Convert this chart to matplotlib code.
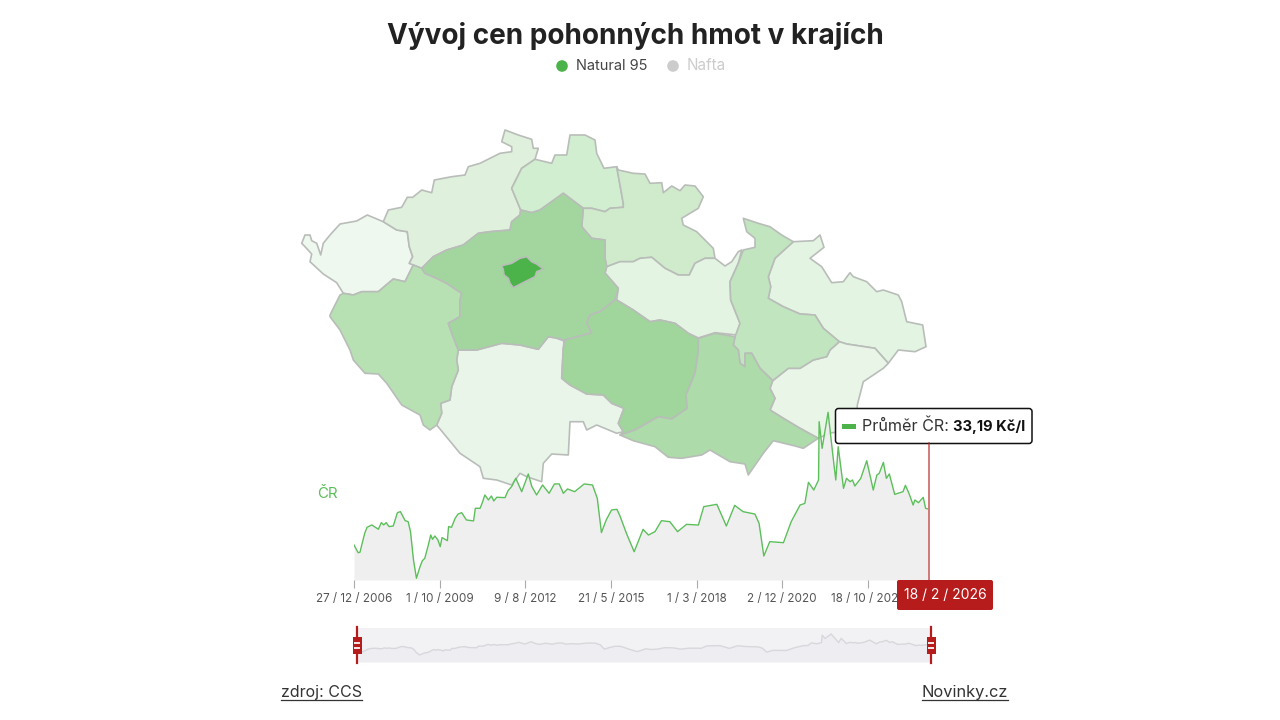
import matplotlib
matplotlib.use("Agg")
import matplotlib.pyplot as plt
from matplotlib.patches import Polygon, FancyBboxPatch, Rectangle, Circle

plt.rcParams['font.family'] = ['Inter', 'DejaVu Sans']

TITLE = "Vývoj cen pohonných hmot v krajích"
LEGEND_LABELS = ["Natural 95", "Nafta"]
TICK_LABELS = ["27 / 12 / 2006", "1 / 10 / 2009", "9 / 8 / 2012", "21 / 5 / 2015",
               "1 / 3 / 2018", "2 / 12 / 2020", "18 / 10 / 2023"]
TICK_INDEX = [0, 144, 288, 432, 576, 720, 864]
LAST_DATE = "18 / 2 / 2026"

week_index = [0, 7, 10, 18, 22, 30, 41, 46, 50, 54, 59, 66, 73, 78, 86, 91, 95, 100, 105, 111,
              115, 119, 125, 129, 132, 136, 141, 145, 148, 157, 159, 164, 170, 175, 181, 189,
              201, 204, 212, 216, 220, 226, 231, 235, 240, 254, 259, 265, 272, 282, 293, 299,
              307, 317, 328, 337, 345, 352, 359, 371, 387, 401, 409, 416, 424, 433, 442, 447,
              458, 471, 486, 495, 506, 517, 531, 544, 559, 579, 588, 610, 626, 640, 654, 674,
              681, 689, 699, 722, 735, 750, 758, 764, 773, 781, 782, 787, 797, 806, 810, 814,
              823, 828, 834, 838, 842, 852, 862, 873, 879, 883, 890, 895, 900, 909, 923, 927,
              933, 940, 943, 949, 957, 961, 965]
price_natural95 = [29.0, 28.11, 28.15, 30.36, 31.06, 31.33, 30.83, 31.6, 31.33, 31.6, 31.14, 31.21,
                   32.76, 32.88, 31.83, 31.72, 30.55, 27.26, 25.13, 26.48, 27.18, 27.45, 29.0,
                   30.17, 29.66, 30.05, 29.59, 28.81, 29.86, 29.51, 31.14, 31.06, 32.1, 32.6,
                   32.76, 31.91, 31.8, 33.27, 33.27, 33.97, 34.82, 34.24, 34.7, 34.12, 34.55,
                   34.51, 35.32, 35.79, 36.76, 35.2, 37.26, 35.79, 34.82, 35.98, 35.01, 36.1,
                   36.1, 35.01, 35.52, 35.2, 36.1, 35.98, 34.43, 30.44, 31.91, 33.07, 33.15, 32.4,
                   30.36, 28.22, 30.82, 30.16, 30.55, 31.83, 31.71, 30.55, 31.4, 31.32, 33.46,
                   33.73, 31.21, 33.61, 32.88, 32.6, 31.52, 27.72, 29.39, 29.27, 31.71, 33.65,
                   33.84, 36.29, 35.39, 36.56, 43.34, 40.24, 44.43, 38.88, 36.56, 40.43, 35.59,
                   36.75, 36.36, 36.56, 35.86, 36.75, 38.8, 35.39, 37.14, 37.33, 38.61, 36.75,
                   37.26, 34.89, 35.2, 35.94, 35.01, 33.65, 34.23, 33.92, 34.54, 33.26, 33.19]
AVG_TEXT = "33,19 Kč/l"

# Region outlines in map units, with their fills
karlovy_vary = [(301.7,243.3),(305,235),(310,235),(311.7,240.7),(316.7,243.3),(320.7,255),(323.3,243.3),(330,235),(340,224),(356.7,221),(367.3,215),(383.3,221.7),(396.7,230),(407.3,231.7),(409.3,246.7),(412.7,256.7),(409.3,263.3),(413.3,265),(405,281.7),(393.3,279),(378.3,291.7),(361.7,291.7),(353.3,295),(343.3,293.3),(336.7,282.7),(323.3,274),(310,261.7),(311.7,254),(305,246.7)]
usti = [(383.3,221.7),(388.3,210),(401.7,207.3),(407.3,197.3),(412.7,197.3),(421.7,190),(431.7,192.7),(434.3,180),(451.7,176.7),(465,175),(468.3,166.7),(480,163.3),(500,153.3),(511.7,151.7),(511.7,146.7),(501.7,141.7),(505,130),(518.3,135),(531.7,139.3),(533.3,148.3),(538.3,148.3),(535,159.3),(521.7,168.3),(511.7,188.3),(520.7,210),(520,215),(511.7,221.7),(510,230),(490,231.7),(478.3,233.3),(463.3,245),(446.7,250),(433.3,256.7),(421.7,268.3),(413.3,265),(409.3,263.3),(412.7,256.7),(409.3,246.7),(407.3,231.7),(396.7,230)]
liberec = [(535,159.3),(551.7,163.3),(555,155),(566.7,155),(570,135),(585,135),(595,140),(596.7,153.3),(604,168.3),(616.7,166.7),(623.3,203.3),(623.3,207.3),(610,208.3),(605,211.7),(591.7,208.3),(583.3,208.3),(563.3,193.3),(540,210),(531.7,212.7),(520.7,210),(511.7,188.3),(521.7,168.3)]
hradec = [(616.7,166.7),(618.3,170),(633.3,173.3),(645,174),(650,183.3),(661.7,182.7),(663.3,192.7),(671.7,186),(680,190.7),(685,185),(695,186),(703.3,196.7),(698.3,208.3),(681.7,218.3),(683.3,225),(696.7,231.7),(713.3,248.3),(715,258.3),(705,258.3),(695,263.3),(689.3,275),(678.3,275),(665,268.3),(651.7,257.3),(640,258.3),(633.3,261.7),(620,261.7),(606.7,266.7),(605,258.3),(605,240),(591.7,238.3),(581.7,226.7),(583.3,208.3),(591.7,208.3),(605,211.7),(610,208.3),(623.3,207.3),(623.3,203.3)]
central = [(520.7,210),(531.7,212.7),(540,210),(563.3,193.3),(583.3,208.3),(581.7,226.7),(591.7,238.3),(605,240),(605,258.3),(606.7,266.7),(605,273),(618.3,288.3),(615,300),(600,311.7),(590,315),(586.7,323),(591.7,333),(565,340),(556,338),(548.3,336.7),(538.3,349.3),(520,345),(501.7,343.3),(476.7,350),(458.3,350),(451.7,333),(448.3,323.3),(460,316.7),(460,300),(461.7,293.3),(446.7,283.3),(436.7,278.3),(425,273.3),(421.7,268.3),(433.3,256.7),(446.7,250),(463.3,245),(478.3,233.3),(490,231.7),(510,230),(511.7,221.7),(520,215)]
praha = [(501.7,265.7),(511.7,263.3),(520,258.3),(526.7,256.7),(531.7,261.7),(536.7,264),(543.3,269),(536.7,271.7),(535,276.7),(525,281.7),(513.3,287.7),(510,283.3),(508.3,278.3),(504,275),(503.3,270)]
plzen = [(330,315),(340,295),(343.3,293.3),(353.3,295),(361.7,291.7),(378.3,291.7),(393.3,279),(405,281.7),(413.3,265),(421.7,268.3),(425,273.3),(436.7,278.3),(446.7,283.3),(461.7,293.3),(460,300),(460,316.7),(448.3,323.3),(451.7,333),(458.3,350),(456.7,360),(458.3,370),(451.7,386.7),(450,400),(440.7,403.3),(441.7,413.3),(436.7,425),(430,430),(423.3,425),(420,415),(401.7,405),(386.7,383.3),(378.3,374),(365,373.3),(353.3,360),(350,350),(340,330),(330,316.7)]
south_bohemia = [(458.3,350),(476.7,350),(501.7,343.3),(520,345),(538.3,349.3),(548.3,336.7),(556,338),(564,341),(563.3,348.3),(561.7,378.3),(570,385),(586.7,394),(603.3,395),(611.7,403.3),(624,408.3),(618.3,423.3),(623.3,431.7),(616.7,433.3),(596.7,425),(586.7,430),(583.3,421.7),(570,421.7),(568.3,455),(551.7,454),(543.3,463.3),(541.7,481.7),(526.7,476.7),(520,473.3),(511.7,485),(496.7,480),(483.3,478.3),(480,466.7),(460,453.3),(436.7,425),(441.7,413.3),(440.7,403.3),(450,400),(451.7,386.7),(458.3,370),(456.7,360)]
vysocina = [(615,300),(600,311.7),(590,315),(586.7,323),(591.7,333),(565,340),(563.3,348.3),(561.7,378.3),(570,385),(586.7,394),(603.3,395),(611.7,403.3),(624,408.3),(618.3,423.3),(623.3,431.7),(620,435),(635,430),(658.3,416.7),(671.7,419),(687.3,408.3),(686,395),(695,373.3),(698.3,351.7),(698.3,338.3),(688.3,333.3),(675,323.3),(660,320),(650,321.7),(633.3,310),(616.7,300)]
south_moravia = [(698.3,338.3),(715,333.3),(735,336.7),(733.3,345),(738.3,350),(740,363.3),(745,366.7),(745,353.3),(751.7,353.3),(760,368.3),(772.7,380.7),(770,388.3),(775,398.3),(770,410),(783.3,418.3),(800,428.3),(818.3,438.3),(803.3,448.3),(795,446),(773.3,440.7),(763.3,453.3),(748.3,475),(745,464),(730,461.7),(710,450),(701.7,455),(681.7,458.3),(668.3,457.3),(655,446.7),(633.3,440.7),(620,435),(635,430),(658.3,416.7),(671.7,419),(687.3,408.3),(686,395),(695,373.3),(698.3,351.7)]
olomouc = [(743.3,218.3),(758.3,223.3),(770,226.7),(781.7,235),(793.3,241.7),(775,258.3),(768.3,276.7),(770.7,286.7),(768.3,298.3),(783.3,306.7),(800,314),(815,315),(823.3,328.3),(839.3,341.7),(830,350),(826.7,356.7),(813.3,360),(800,368.3),(788.3,368.3),(772.7,380.7),(760,368.3),(751.7,353.3),(745,353.3),(745,366.7),(740,363.3),(738.3,350),(733.3,345),(735,336.7),(740,323.3),(730.7,300),(730,281.7),(738.3,263.3),(743.3,250),(755,247.3),(755,238.3),(746.7,231.7)]
silesia = [(793.3,241.7),(813.3,240.7),(820,235),(824,247.3),(810,258.3),(821.7,266.7),(831.7,282.7),(843.3,281.7),(850,272.7),(853.3,276.7),(866.7,281.7),(876.7,291.7),(883.3,290),(898.3,295),(901.7,301.7),(906.7,321.7),(922.7,325),(926,346.7),(915,351.7),(898.3,350),(888.3,363.3),(875,348.3),(846.7,344),(839.3,341.7),(823.3,328.3),(815,315),(800,314),(783.3,306.7),(768.3,298.3),(770.7,286.7),(768.3,276.7),(775,258.3)]
zlin = [(839.3,341.7),(846.7,344),(875,348.3),(888.3,363.3),(883.3,368.3),(863.3,381.7),(857.3,405),(856,430),(830,433),(818.3,438.3),(800,428.3),(783.3,418.3),(770,410),(775,398.3),(770,388.3),(772.7,380.7),(788.3,368.3),(800,368.3),(813.3,360),(826.7,356.7),(830,350)]
pardubice = [(606.7,266.7),(620,261.7),(633.3,261.7),(640,258.3),(651.7,257.3),(665,268.3),(678.3,275),(689.3,275),(695,263.3),(705,258.3),(715,258.3),(725,266),(731.7,261.7),(738.3,251.7),(741.7,250),(738.3,263.3),(730,281.7),(730.7,300),(740,323.3),(736.7,335),(715,332.7),(698.3,338),(688.3,333.3),(675,323.3),(660,320),(650,321.7),(633.3,310),(616.7,300),(618.3,288.3),(605,273)]

regions = [karlovy_vary, usti, liberec, hradec, pardubice, silesia, zlin, olomouc, south_bohemia,
           plzen, central, vysocina, south_moravia, praha]
region_fills = ["#EFF8EE", "#DFF1DC", "#D2EED0", "#CFEBCC", "#E4F4E2", "#E4F4E2", "#E9F5E7", "#C1E5BE",
                "#EAF5EA", "#B7E0B3", "#A3D69F", "#A0D59C", "#ADDBA9", "#4CB34A"]

W, H = 1280, 720
fig = plt.figure(figsize=(W/100, H/100), dpi=100, facecolor="white")

def px_axes(l, t, r, b, z):
    a = fig.add_axes([l/W, 1-b/H, (r-l)/W, (b-t)/H], zorder=z)
    a.patch.set_alpha(0)
    return a

# Map and page-level texts
m = px_axes(0, 0, W, H, 1)
m.set_xlim(0, W); m.set_ylim(H, 0); m.axis("off")
for outline, fill in zip(regions, region_fills):
    m.add_patch(Polygon(outline, closed=True, facecolor=fill, edgecolor="#B9BDB9", lw=1.2, joinstyle="round"))

m.text(635, 36.5, TITLE, ha="center", va="center", fontsize=20.1, fontweight="bold", color="#222222")
m.add_patch(Circle((562, 66), 5.8, color="#4CB34A", lw=0))
m.text(576, 65.5, LEGEND_LABELS[0], ha="left", va="center", fontsize=10.5, color="#444444")
m.add_patch(Circle((673, 66), 5.8, color="#CCCCCC", lw=0))
m.text(687, 65.5, LEGEND_LABELS[1], ha="left", va="center", fontsize=11, color="#CCCCCC")
m.text(317, 494, "ČR", ha="left", va="center", fontsize=10.8, color="#5CBF5A")

# Main price chart
y_bottom, y_top = 24.93, 44.7
a = px_axes(354, 410, 928, 580, 2)
a.set_xlim(0, 965); a.set_ylim(y_bottom, y_top)
a.fill_between(week_index, price_natural95, y_bottom, color="#EEEEEF", alpha=0.92, lw=0)
a.plot(week_index, price_natural95, color="#5CBF5A", lw=1.0, solid_joinstyle="round")
for s in a.spines.values():
    s.set_visible(False)
a.set_yticks([])
a.set_xticks(TICK_INDEX)
a.set_xticklabels(TICK_LABELS, fontsize=8.4, color="#555555")
a.tick_params(axis="x", length=6, width=0.8, color="#AAAAAA", pad=3.5)

# Range slider
s = px_axes(357, 628, 931, 662, 2)
s.set_xlim(0, 965); s.set_ylim(18.7, 49.9)
s.patch.set_alpha(1); s.patch.set_facecolor("#F2F2F4")
s.fill_between(week_index, price_natural95, 18.7, color="#EDEDF2", lw=0)
s.plot(week_index, price_natural95, color="#D8D8DC", lw=1.0)
s.set_xticks([]); s.set_yticks([])
for sp in s.spines.values():
    sp.set_visible(False)

# Overlay: cursor, tooltip, date flag, slider handles, footer
o = px_axes(0, 0, W, H, 3)
o.set_xlim(0, W); o.set_ylim(H, 0); o.axis("off")
o.plot([928.5, 928.5], [443, 581], color="#B71C1C", lw=1.1, alpha=0.75)
o.add_patch(FancyBboxPatch((835.5, 408.5), 196.5, 35, boxstyle="round,pad=0,rounding_size=3",
                           facecolor="white", edgecolor="#111111", lw=1.1))
o.add_patch(Rectangle((842, 424), 14, 5, color="#4CB34A", lw=0))
o.text(862, 426.5, "Průměr ČR:", ha="left", va="center", fontsize=11.6, color="#333333")
o.text(953, 426.5, AVG_TEXT, ha="left", va="center", fontsize=10.6, fontweight="bold", color="#111111")
o.add_patch(FancyBboxPatch((897, 580), 96, 30, boxstyle="round,pad=0,rounding_size=2",
                           facecolor="#B71C1C", edgecolor="none"))
o.text(945, 595, LAST_DATE, ha="center", va="center", fontsize=10.0, color="white")
for hx in (357, 931):
    o.plot([hx, hx], [627, 663], color="#B71C1C", lw=1.6, zorder=2)
    o.add_patch(Rectangle((hx-4.5, 637), 9, 17, facecolor="#B71C1C", edgecolor="none", zorder=3))
    o.add_patch(Rectangle((hx-3, 642), 6, 2, facecolor="#F3E3E3", edgecolor="none", zorder=4))
    o.add_patch(Rectangle((hx-3, 647), 6, 2, facecolor="#F3E3E3", edgecolor="none", zorder=4))
o.text(281, 692, "zdroj: CCS", ha="left", va="center", fontsize=11.5, color="#333333")
o.plot([281, 362], [700, 700], color="#333333", lw=0.9)
o.text(1008, 692, "Novinky.cz", ha="right", va="center", fontsize=11.8, color="#333333")
o.plot([922, 1008], [700, 700], color="#333333", lw=0.9)

fig.savefig("out.png", dpi=100)
